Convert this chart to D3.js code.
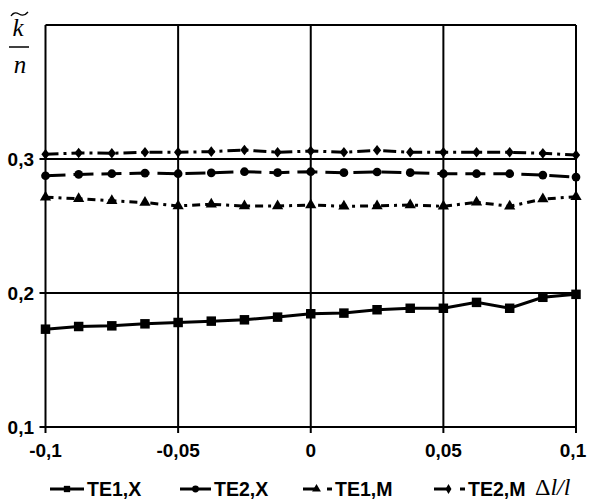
<!DOCTYPE html>
<html><head><meta charset="utf-8">
<script src="https://cdn.jsdelivr.net/npm/d3@7"></script>
<style>body{margin:0;background:#fff}svg{display:block}</style>
</head><body>
<svg id="c" width="590" height="503"></svg>
<script>
const xValues = [-0.1,-0.0875,-0.075,-0.0625,-0.05,-0.0375,-0.025,-0.0125,0,0.0125,0.025,0.0375,0.05,0.0625,0.075,0.0875,0.1];
const te1x = [0.173,0.175,0.1755,0.177,0.178,0.179,0.180,0.182,0.1845,0.185,0.1875,0.1886,0.1886,0.193,0.1886,0.1968,0.199];
const te2x = [0.2875,0.2885,0.289,0.2895,0.289,0.2897,0.2905,0.2898,0.2905,0.2898,0.2903,0.2898,0.289,0.289,0.289,0.288,0.2865];
const te1m = [0.2715,0.2703,0.2688,0.2675,0.265,0.2662,0.2649,0.2649,0.2657,0.2647,0.265,0.2657,0.2647,0.2677,0.2647,0.2701,0.2719];
const te2m = [0.3035,0.3045,0.3043,0.305,0.305,0.3055,0.3067,0.305,0.306,0.305,0.3065,0.305,0.305,0.305,0.305,0.3042,0.303];
const xTicks = [-0.1,-0.05,0,0.05,0.1];
const xTickLabels = ["-0,1","-0,05","0","0,05","0,1"];
const yTicks = [0.1,0.2,0.3];
const yTickLabels = ["0,1","0,2","0,3"];
const seriesNames = ["TE1,X","TE2,X","TE1,M","TE2,M"];

const series = [
  {name: seriesNames[0], values: te1x, sym: d3.symbolSquare, size: 90, dash: null, lsize: 40},
  {name: seriesNames[1], values: te2x, sym: d3.symbolCircle, size: 60, dash: "20,8", lsize: 36},
  {name: seriesNames[2], values: te1m, sym: d3.symbolTriangle, size: 55, dash: "8,5,3,5", lsize: 34},
  {name: seriesNames[3], values: te2m, sym: d3.symbolDiamond, size: 45, dash: "13,5,3,5", lsize: 30}
];

const svg = d3.select("#c");
const L = 45.5, R = 576, T = 25, B = 427;
const x = d3.scaleLinear().domain([-0.1, 0.1]).range([L, R]);
const y = d3.scaleLinear().domain([0.1, 0.4]).range([B, T]);

const g = svg.append("g");
// grid
g.selectAll(".vg").data(xTicks).enter().append("line")
  .attr("x1", d => x(d)).attr("x2", d => x(d)).attr("y1", T).attr("y2", B + 6)
  .attr("stroke", "#000").attr("stroke-width", 2);
g.selectAll(".hg").data(yTicks.concat([0.4])).enter().append("line")
  .attr("x1", d => d === 0.4 ? L : L - 6).attr("x2", R).attr("y1", d => y(d)).attr("y2", d => y(d))
  .attr("stroke", "#000").attr("stroke-width", 2);

// tick labels
g.selectAll(".xl").data(xTicks).enter().append("text")
  .attr("x", (d, i) => x(d) + (i === 4 ? -3 : 0)).attr("y", 457)
  .attr("text-anchor", "middle")
  .attr("font-family", "Liberation Sans, Arial, sans-serif").attr("font-weight", "bold").attr("font-size", 19)
  .text((d, i) => xTickLabels[i]);
g.selectAll(".yl").data(yTicks).enter().append("text")
  .attr("x", 34).attr("y", d => y(d) + 7)
  .attr("text-anchor", "end")
  .attr("font-family", "Liberation Sans, Arial, sans-serif").attr("font-weight", "bold").attr("font-size", 19)
  .text((d, i) => yTickLabels[i]);

// series
const line = d3.line().x((d, i) => x(xValues[i])).y(d => y(d));
series.forEach(s => {
  g.append("path").attr("d", line(s.values)).attr("fill", "none")
    .attr("stroke", "#000").attr("stroke-width", 3)
    .attr("stroke-dasharray", s.dash);
  g.selectAll(null).data(s.values).enter().append("path")
    .attr("d", d3.symbol().type(s.sym).size(s.size))
    .attr("transform", (d, i) => `translate(${x(xValues[i])},${y(d)})` + (s.sym === d3.symbolDiamond ? " scale(1.15,0.85)" : ""))
    .attr("fill", "#000");
});

// y title: k~ / n
const serif = "Liberation Serif, Times New Roman, serif";
svg.append("text").attr("x", 18).attr("y", 36).attr("font-family", serif).attr("font-style", "italic")
  .attr("font-size", 25).attr("text-anchor", "middle").text("k");
svg.append("path").attr("d", "M11,16 Q14,11 19,14 T28,12").attr("fill", "none")
  .attr("stroke", "#000").attr("stroke-width", 1.3);
svg.append("line").attr("x1", 9).attr("x2", 29).attr("y1", 47).attr("y2", 47).attr("stroke", "#000").attr("stroke-width", 1.5);
svg.append("text").attr("x", 20).attr("y", 73).attr("font-family", serif).attr("font-style", "italic")
  .attr("font-size", 25).attr("text-anchor", "middle").text("n");

// legend
const legX = [[50, 84, 87], [180, 211, 214], [303, 332, 335], [434, 465, 468]];
const ly = 489;
series.forEach((s, i) => {
  const [a, b, t] = legX[i];
  const lg = svg.append("g");
  if (i < 2) {
    lg.append("line").attr("x1", a).attr("x2", b).attr("y1", ly).attr("y2", ly).attr("stroke", "#000").attr("stroke-width", 3);
  } else {
    lg.append("line").attr("x1", a).attr("x2", a + 13).attr("y1", ly).attr("y2", ly).attr("stroke", "#000").attr("stroke-width", 3);
    lg.append("line").attr("x1", b - 5).attr("x2", b).attr("y1", ly).attr("y2", ly).attr("stroke", "#000").attr("stroke-width", 3);
  }
  lg.append("path").attr("d", d3.symbol().type(s.sym).size(s.lsize))
    .attr("transform", `translate(${(a + b) / 2 + (i >= 2 ? -1 : 0)},${ly})`).attr("fill", "#000");
  lg.append("text").attr("x", t).attr("y", 496)
    .attr("font-family", "Liberation Sans, Arial, sans-serif").attr("font-weight", "bold").attr("font-size", 19.5)
    .text(s.name);
});
const dl = svg.append("text").attr("x", 535).attr("y", 495).attr("font-family", serif).attr("font-size", 24);
dl.append("tspan").text("Δ");
dl.append("tspan").attr("font-style", "italic").text("l/l");
</script>
</body></html>
